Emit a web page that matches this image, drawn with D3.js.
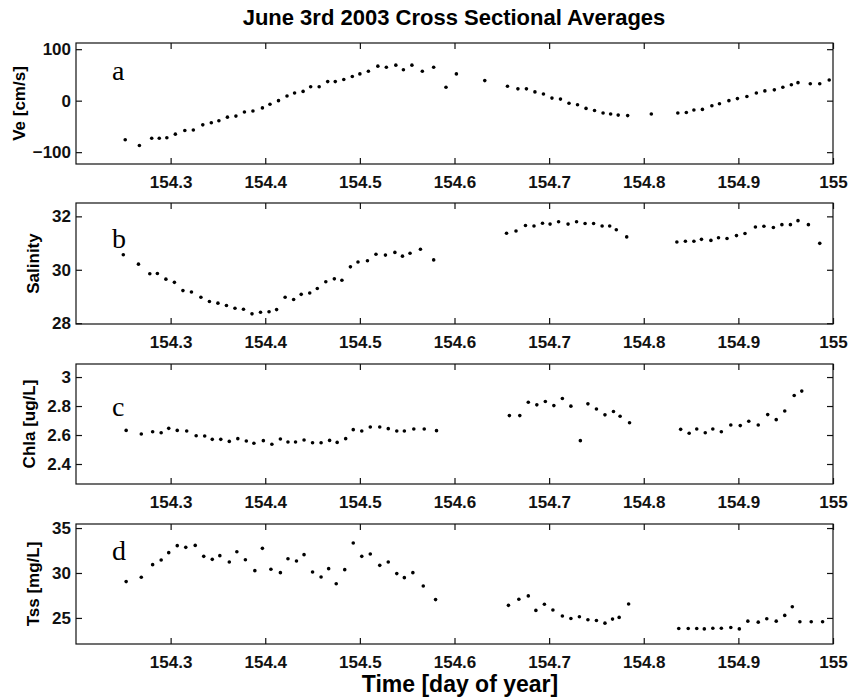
<!DOCTYPE html>
<html>
<head>
<meta charset="utf-8">
<script src="https://cdn.jsdelivr.net/npm/d3@7"></script>
<style>
    body { margin: 0; background: #fff; }
    text { font-family: "Liberation Sans", Arial, sans-serif; }
    text.letter { font-family: "Liberation Serif", "Times New Roman", serif; }
</style>
</head>
<body>
<div id="chart"></div>
<script>
// x tick values shared by all four panels
const timeTicks = [154.3, 154.4, 154.5, 154.6, 154.7, 154.8, 154.9, 155]

// a) Ve [cm/s]
const veTime = [154.252,154.267,154.280,154.288,154.296,154.305,154.315,154.324,154.334,154.343,154.351,154.360,154.369,154.378,154.387,154.397,154.405,154.414,154.423,154.431,154.440,154.448,154.457,154.466,154.474,154.483,154.492,154.500,154.509,154.519,154.528,154.538,154.546,154.555,154.566,154.578,154.591,154.602,154.632,154.656,154.667,154.676,154.685,154.694,154.703,154.712,154.721,154.730,154.739,154.748,154.757,154.765,154.773,154.783,154.808,154.836,154.845,154.853,154.862,154.872,154.880,154.890,154.899,154.909,154.919,154.928,154.938,154.947,154.956,154.963,154.976,154.986,154.996]
const veValues = [-76,-87,-73,-73,-72,-65,-58,-57,-47,-43,-39,-32,-30,-22,-20,-14,-7,0,9,15,18,27,27,37,37,41,47,52,57,67,65,69,60,69,57,65,26,52,39,28,23,23,17,13,5,3,-5,-8,-15,-19,-24,-26,-28,-29,-26,-24,-23,-18,-17,-10,-6,0,4,8,15,19,21,26,31,35,33,33,40]
const veTicks = [-100, 0, 100]

// b) Salinity
const salTime = [154.250,154.266,154.278,154.286,154.295,154.304,154.313,154.322,154.332,154.341,154.350,154.359,154.368,154.377,154.386,154.395,154.404,154.412,154.421,154.430,154.438,154.447,154.455,154.464,154.473,154.481,154.490,154.498,154.508,154.517,154.527,154.537,154.545,154.553,154.564,154.578,
    154.655,154.665,154.675,154.684,154.693,154.701,154.710,154.720,154.729,154.738,154.747,154.756,154.764,154.771,154.782,
    154.835,154.844,154.853,154.861,154.871,154.879,154.888,154.898,154.907,154.918,154.927,154.937,154.946,154.955,154.963,154.974,154.986]
const salValues = [30.56,30.21,29.85,29.86,29.65,29.53,29.22,29.17,28.97,28.81,28.75,28.66,28.56,28.52,28.35,28.41,28.43,28.51,28.97,28.89,29.08,29.13,29.30,29.55,29.66,29.61,30.11,30.29,30.34,30.58,30.55,30.65,30.51,30.62,30.77,30.37,
    31.37,31.45,31.66,31.64,31.74,31.71,31.80,31.71,31.80,31.73,31.73,31.64,31.64,31.50,31.23,
    31.04,31.07,31.07,31.14,31.10,31.20,31.17,31.28,31.36,31.60,31.63,31.58,31.69,31.69,31.84,31.69,30.99]
const salTicks = [28, 30, 32]

// c) Chla [ug/L]
const chlaTime = [154.253,154.269,154.281,154.290,154.298,154.307,154.317,154.327,154.336,154.344,154.353,154.362,154.371,154.380,154.388,154.398,154.407,154.416,154.424,154.432,154.441,154.450,154.459,154.468,154.476,154.485,154.493,154.502,154.511,154.521,154.530,154.539,154.547,154.557,154.568,154.581,
    154.658,154.669,154.678,154.687,154.696,154.705,154.714,154.723,154.733,154.741,154.750,154.759,154.768,154.775,154.785,
    154.839,154.848,154.856,154.865,154.873,154.882,154.892,154.902,154.911,154.921,154.931,154.940,154.949,154.959,154.967]
const chlaValues = [2.632,2.607,2.623,2.616,2.646,2.632,2.628,2.595,2.593,2.570,2.570,2.556,2.575,2.559,2.543,2.561,2.536,2.572,2.552,2.552,2.566,2.547,2.547,2.563,2.549,2.575,2.637,2.628,2.655,2.655,2.644,2.628,2.628,2.641,2.641,2.630,
    2.734,2.734,2.826,2.808,2.831,2.803,2.852,2.799,2.561,2.815,2.780,2.739,2.762,2.729,2.685,
    2.639,2.612,2.642,2.616,2.642,2.623,2.669,2.665,2.695,2.669,2.741,2.706,2.766,2.873,2.903]
const chlaTicks = [2.4, 2.6, 2.8, 3]

// d) Tss [mg/L]
const tssTime = [154.253,154.269,154.281,154.290,154.298,154.307,154.316,154.326,154.335,154.344,154.352,154.362,154.370,154.379,154.389,154.397,154.406,154.416,154.424,154.433,154.441,154.450,154.459,154.467,154.475,154.484,154.493,154.502,154.511,154.521,154.530,154.539,154.547,154.556,154.567,154.580,
    154.657,154.668,154.678,154.686,154.695,154.704,154.714,154.723,154.732,154.741,154.750,154.759,154.767,154.774,154.784,
    154.837,154.847,154.856,154.864,154.873,154.882,154.892,154.901,154.910,154.921,154.930,154.940,154.949,154.957,154.965,154.977,154.989]
const tssValues = [29.04,29.52,30.93,31.44,32.26,33.04,32.85,33.07,31.85,31.52,31.93,31.22,32.37,31.48,30.26,32.74,30.41,30.04,31.59,31.33,32.04,30.11,29.56,30.48,28.81,30.37,33.33,31.85,32.11,30.85,31.22,29.93,29.48,30.04,28.56,27.04,
    26.40,27.08,27.45,25.84,26.52,25.88,25.21,24.94,25.13,24.79,24.72,24.42,24.87,25.06,26.55,
    23.82,23.82,23.82,23.78,23.86,23.86,23.93,23.78,24.64,24.53,24.91,24.64,25.28,26.25,24.57,24.57,24.57]
const tssTicks = [25, 30, 35]

const width = 854
const height = 700
const tickLen = 6

const panels = [
    { time: veTime, values: veValues, ticks: veTicks, domain: [-123, 112], top: 43, bottom: 164,
      label: "Ve [cm/s]", labelX: 25, letter: "a", letterY: 80 },
    { time: salTime, values: salValues, ticks: salTicks, domain: [27.97, 32.5], top: 203, bottom: 324,
      label: "Salinity", labelX: 39, letter: "b", letterY: 248 },
    { time: chlaTime, values: chlaValues, ticks: chlaTicks, domain: [2.262, 3.09], top: 364, bottom: 484,
      label: "Chla [ug/L]", labelX: 35, letter: "c", letterY: 416 },
    { time: tssTime, values: tssValues, ticks: tssTicks, domain: [22.1, 35.45], top: 524, bottom: 644,
      label: "Tss [mg/L]", labelX: 39, letter: "d", letterY: 560 },
]

const svg = d3.select("#chart")
    .append("svg")
    .attr("width", width)
    .attr("height", height)

const x = d3.scaleLinear()
    .domain([154.2, 155.0])
    .range([76, 833])

svg.append("text")
    .attr("x", 454)
    .attr("y", 25)
    .attr("text-anchor", "middle")
    .attr("font-weight", "bold")
    .attr("font-size", "22px")
    .text("June 3rd 2003 Cross Sectional Averages")

panels.forEach((p) => {
    const y = d3.scaleLinear()
        .domain(p.domain)
        .range([p.bottom, p.top])

    const g = svg.append("g")

    // bottom axis with labels, ticks pointing in
    g.append("g")
        .attr("transform", "translate(0," + p.bottom + ")")
        .call(d3.axisBottom(x).tickValues(timeTicks).tickFormat(d3.format("")).tickSizeInner(-tickLen).tickSizeOuter(0).tickPadding(12))
    // top axis, ticks only
    g.append("g")
        .attr("transform", "translate(0," + p.top + ")")
        .call(d3.axisTop(x).tickValues(timeTicks).tickFormat("").tickSizeInner(-tickLen).tickSizeOuter(0))
    // left axis with labels
    g.append("g")
        .attr("transform", "translate(" + x.range()[0] + ",0)")
        .call(d3.axisLeft(y).tickValues(p.ticks).tickFormat(d3.format("")).tickSizeInner(-tickLen).tickSizeOuter(0).tickPadding(5))
    // right axis, ticks only
    g.append("g")
        .attr("transform", "translate(" + x.range()[1] + ",0)")
        .call(d3.axisRight(y).tickValues(p.ticks).tickFormat("").tickSizeInner(-tickLen).tickSizeOuter(0))

    g.selectAll(".tick line").attr("stroke", "#111").attr("stroke-width", 1.2)
    g.selectAll(".domain").remove()
    g.selectAll(".tick text")
        .attr("fill", "#111")
        .attr("font-weight", "bold")
        .attr("font-size", "17px")
        .style("font-family", "'Liberation Sans', Arial, sans-serif")

    g.append("rect")
        .attr("x", x.range()[0])
        .attr("y", p.top)
        .attr("width", x.range()[1] - x.range()[0])
        .attr("height", p.bottom - p.top)
        .attr("fill", "none")
        .attr("stroke", "#111")
        .attr("stroke-width", 1.2)

    g.append("text")
        .attr("transform", "translate(" + p.labelX + "," + (p.top + p.bottom) / 2 + ") rotate(-90)")
        .attr("text-anchor", "middle")
        .attr("font-weight", "bold")
        .attr("font-size", "17px")
        .text(p.label)

    g.append("text")
        .attr("class", "letter")
        .attr("x", 112)
        .attr("y", p.letterY)
        .attr("font-size", "28px")
        .text(p.letter)

    const points = p.time.map((t, i) => ({ t: t, v: p.values[i] }))
    g.append("g")
        .selectAll("circle")
        .data(points)
        .enter()
        .append("circle")
        .attr("cx", (d) => x(d.t))
        .attr("cy", (d) => y(d.v))
        .attr("r", 1.8)
        .attr("fill", "#000")
})

svg.append("text")
    .attr("x", 460)
    .attr("y", 692)
    .attr("text-anchor", "middle")
    .attr("font-weight", "bold")
    .attr("font-size", "23px")
    .text("Time [day of year]")
</script>
</body>
</html>
